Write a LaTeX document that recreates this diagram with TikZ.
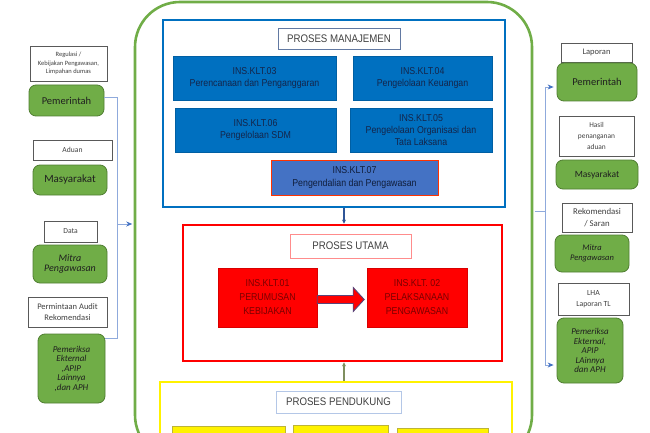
\documentclass[tikz,border=0pt]{standalone}
\usepackage{fontspec}
\usetikzlibrary{arrows.meta,calc}
\newfontfamily\narrowsans[FakeStretch=0.88]{Liberation Sans}
\newfontfamily\calibri{Carlito}
\definecolor{grn}{HTML}{70AD47}
\definecolor{grnD}{HTML}{507E32}
\definecolor{blu}{HTML}{0070C0}
\definecolor{blu2}{HTML}{4472C4}
\definecolor{navy}{HTML}{14254A}
\definecolor{dred}{HTML}{7A0000}
\definecolor{lineB}{HTML}{8FAADC}
\definecolor{arrB}{HTML}{4472C4}
\definecolor{olive2}{HTML}{7F8F5F}
\definecolor{darkB}{HTML}{2F5597}
\begin{document}
\begin{tikzpicture}[x=1pt,y=-1pt,
  sidelabel/.style={draw=black!65, line width=0.7pt, fill=white, inner sep=0pt, align=center, font=\calibri, text=black!75},
  greenbox/.style={draw=grnD, fill=grn, rounded corners=7pt, line width=0.8pt, inner sep=0pt, align=center, font=\calibri, text=black!88},
  bluebox/.style={fill=blu, draw=blu!85!black, line width=0.4pt, inner sep=0pt, align=center, font={\narrowsans\fontsize{10}{12.5}\selectfont}, text=navy},
  redbox/.style={fill=red, draw=red!85!black, line width=0.4pt, inner sep=0pt, align=center, font={\narrowsans\fontsize{10}{14}\selectfont}, text=dred},
  yelbox/.style={fill=yellow, draw=yellow!70!black, line width=0.5pt, inner sep=0pt},
  titlebox/.style={fill=white, line width=0.6pt, inner sep=0pt, font={\narrowsans\fontsize{11}{13}\selectfont}, text=black!75},
  frame/.style={draw, line width=2.8pt, fill=none, inner sep=0pt},
  conn/.style={draw=lineB, line width=0.8pt},
  connarr/.style={conn, -{Stealth[length=6pt,width=5pt,color=arrB]}}
]
\clip (0,0) rectangle (650,433);
\fill[white] (0,0) rectangle (650,433);

% outer green frame
\node[draw=grn, line width=2.6pt, rounded corners=45pt, minimum width=397pt, minimum height=458pt, inner sep=0pt] (outer) at (333.5,231) {};

% management
\node[frame, draw=blu, minimum width=342pt, minimum height=187pt] (mgmt) at (334,113.5) {};
\node[titlebox, draw=blu2!50!gray, minimum width=122pt, minimum height=21pt] (t1) at (339,38.5) {PROSES MANAJEMEN};
\node[bluebox, minimum width=163pt, minimum height=44pt] (k03) at (254.5,78) {INS.KLT.03\\Perencanaan dan Penganggaran};
\node[bluebox, minimum width=139pt, minimum height=44pt] (k04) at (422.5,78) {INS.KLT.04\\Pengelolaan Keuangan};
\node[bluebox, minimum width=161pt, minimum height=44pt] (k06) at (255.5,130) {INS.KLT.06\\Pengelolaan SDM};
\node[bluebox, minimum width=142pt, minimum height=44pt, font={\narrowsans\fontsize{10}{12}\selectfont}] (k05) at (421,130) {INS.KLT.05\\Pengelolaan Organisasi dan\\Tata Laksana};
\node[bluebox, fill=blu2, draw=red!60!orange, line width=0.7pt, minimum width=167pt, minimum height=35pt, text=navy!80!black] (k07) at (354.5,177.5) {INS.KLT.07\\Pengendalian dan Pengawasan};

% main
\node[frame, draw=red, minimum width=319pt, minimum height=136pt] (utama) at (342.5,293) {};
\node[titlebox, draw=red!45, minimum width=121pt, minimum height=24pt] (t2) at (350.5,246) {PROSES UTAMA};
\node[redbox, minimum width=99pt, minimum height=59pt] (k01) at (267.5,297.5) {INS.KLT.01\\PERUMUSAN\\KEBIJAKAN};
\node[redbox, minimum width=100pt, minimum height=59pt] (k02) at (417,297.5) {INS.KLT. 02\\PELAKSANAAN\\PENGAWASAN};
\draw[fill=red, draw=darkB!80!red, line width=0.9pt, line join=miter]
  ($(k01.east)+(0,-2)$) -- ++(36,0) -- ++(0,-8) -- ++(11,12) -- ++(-11,12) -- ++(0,-8) -- ++(-36,0) -- cycle;

% support
\node[frame, draw=yellow, minimum width=352pt, minimum height=88pt] (pend) at (336,426) {};
\node[titlebox, draw=blu2!40, minimum width=125pt, minimum height=22pt] (t3) at (338.5,402) {PROSES PENDUKUNG};
\node[yelbox, minimum width=113pt, minimum height=34pt] (y1) at (228.5,443) {};
\node[yelbox, minimum width=95pt, minimum height=35pt] (y2) at (340.5,442.5) {};
\node[yelbox, minimum width=91pt, minimum height=32pt] (y3) at (442.5,444) {};

% vertical arrows between sections
\draw[darkB, line width=1.6pt, -{Stealth[length=4pt,width=4pt]}] (mgmt.south -| 344,0) -- (utama.north -| 344,0);
\draw[olive2, line width=1.4pt, -{Stealth[length=4pt,width=4pt]}] (pend.north -| 344,0) -- (utama.south -| 344,0);

% left side
\node[sidelabel, minimum width=77pt, minimum height=35pt, font={\calibri\fontsize{6.5}{8.7}\selectfont}] (l1) at (68.5,63.5) {Regulasi /\\Kebijakan Pengawasan,\\Limpahan dumas};
\node[greenbox, minimum width=75pt, minimum height=31pt, font={\calibri\fontsize{10.5}{12}\selectfont}] (l1g) at (66.5,100.5) {Pemerintah};
\node[sidelabel, minimum width=79pt, minimum height=20pt, font={\calibri\fontsize{7.6}{9}\selectfont}] (l2) at (72.5,150) {Aduan};
\node[greenbox, minimum width=74pt, minimum height=30pt, font={\calibri\fontsize{11}{12}\selectfont}] (l2g) at (70,180) {Masyarakat};
\node[sidelabel, minimum width=53pt, minimum height=21pt, font={\calibri\fontsize{7.6}{9}\selectfont}] (l3) at (70.5,231.5) {Data};
\node[greenbox, minimum width=74pt, minimum height=38pt, font={\calibri\itshape\fontsize{10}{10.5}\selectfont}] (l3g) at (70,264) {Mitra\\Pengawasan};
\node[sidelabel, minimum width=79pt, minimum height=30pt, font={\calibri\fontsize{8.5}{11.5}\selectfont}] (l4) at (67.5,312) {Permintaan Audit\\Rekomendasi};
\node[greenbox, minimum width=67pt, minimum height=69pt, font={\calibri\itshape\fontsize{9}{9.5}\selectfont}] (l4g) at (71.5,368.5) {Pemeriksa\\Ekternal\\,APIP\\Lainnya\\,dan APH};

\coordinate (jl) at (117,224);
\coordinate (l1p) at ($(l1g.east)+(0,-3.5)$);
\coordinate (l4p) at ($(l4g.north east)+(0,5)$);
\draw[conn] (l1p) -| (jl);
\draw[conn] (l4p) -| (jl);
\draw[connarr] (jl) -- ($(outer.west |- jl)+(-1.5,0)$);

% right side
\node[sidelabel, minimum width=71pt, minimum height=19pt, font={\calibri\fontsize{8.5}{10}\selectfont}] (r1) at (596.5,52.5) {Laporan};
\node[greenbox, minimum width=80pt, minimum height=38pt, font={\calibri\fontsize{10.5}{12}\selectfont}] (r1g) at (597,82) {Pemerintah};
\node[sidelabel, minimum width=75pt, minimum height=40pt, font={\calibri\fontsize{7.4}{11.2}\selectfont}] (r2) at (596.5,136) {Hasil\\penanganan\\aduan};
\node[greenbox, minimum width=82pt, minimum height=29pt, font={\calibri\fontsize{9.5}{11}\selectfont}] (r2g) at (597,174.5) {Masyarakat};
\node[sidelabel, minimum width=70pt, minimum height=29pt, font={\calibri\fontsize{8.8}{11.5}\selectfont}] (r3) at (597,217.5) {Rekomendasi\\/ Saran};
\node[greenbox, minimum width=74pt, minimum height=37pt, font={\calibri\itshape\fontsize{8.5}{10}\selectfont}] (r3g) at (592,253.5) {Mitra\\Pengawasan};
\node[sidelabel, minimum width=71pt, minimum height=32pt, font={\calibri\fontsize{7.8}{11}\selectfont}] (r4) at (593.5,299) {LHA\\Laporan TL};
\node[greenbox, minimum width=66pt, minimum height=65pt, font={\calibri\itshape\fontsize{9}{9.5}\selectfont}] (r4g) at (590,350.5) {Pemeriksa\\Ekternal,\\APIP\\LAinnya\\dan APH};

\coordinate (jr) at (545,211);
\coordinate (r1p) at ($(r1g.west)+(-3,5)$);
\coordinate (r4p) at ($(r4g.west)+(-3,14.5)$);
\draw[conn] ($(outer.east |- jr)+(1.3,0)$) -- (jr);
\draw[conn] (jr |- r1p) -- (jr |- r4p);
\draw[connarr] (jr |- r1p) -- (r1p);
\draw[connarr] (jr |- r4p) -- (r4p);
\end{tikzpicture}
\end{document}
